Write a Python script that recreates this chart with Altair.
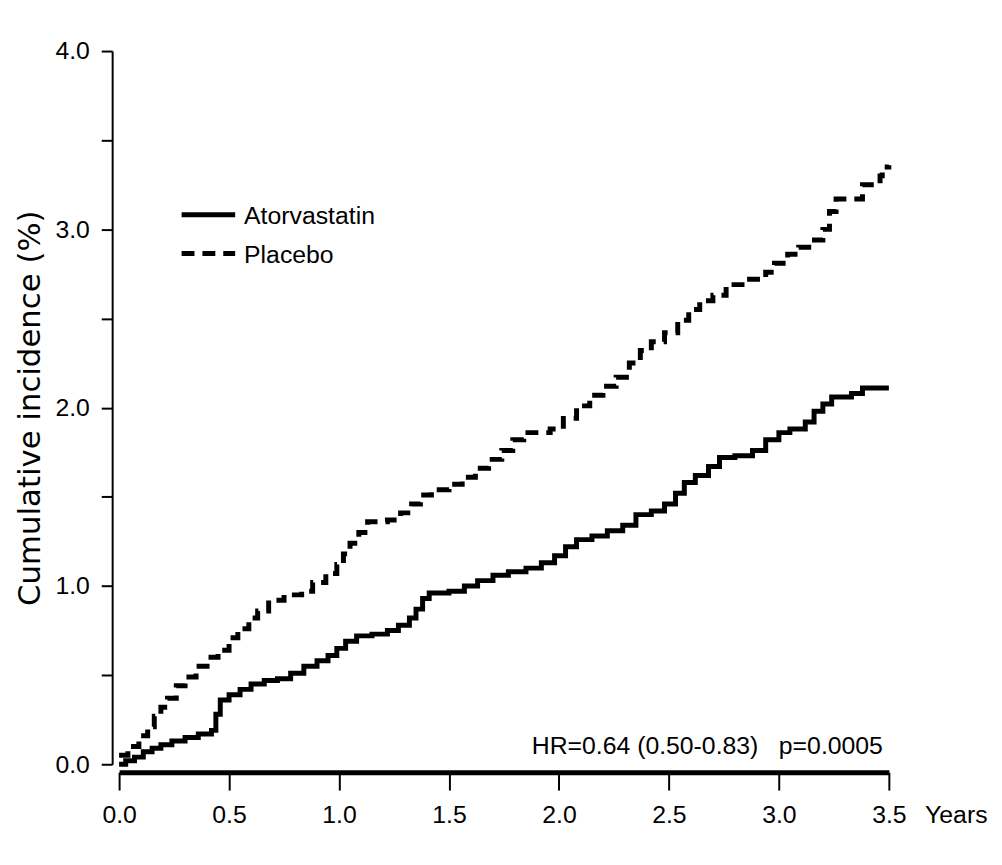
import altair as alt
import pandas as pd

# ---- data ----
atorva_t = [0.00, 0.03, 0.07, 0.11, 0.15, 0.19, 0.24, 0.30, 0.36, 0.42,
            0.44, 0.46, 0.50, 0.55, 0.60, 0.66, 0.72, 0.78, 0.84, 0.90,
            0.95, 0.99, 1.03, 1.08, 1.15, 1.22, 1.27, 1.32, 1.35, 1.38,
            1.41, 1.50, 1.57, 1.63, 1.70, 1.77, 1.85, 1.92, 1.98, 2.03,
            2.08, 2.15, 2.22, 2.29, 2.35, 2.42, 2.48, 2.53, 2.57, 2.62,
            2.68, 2.73, 2.80, 2.88, 2.94, 3.00, 3.05, 3.12, 3.16, 3.20,
            3.24, 3.33, 3.38, 3.50]
atorva_v = [0.00, 0.02, 0.04, 0.07, 0.09, 0.11, 0.13, 0.15, 0.17, 0.19,
            0.28, 0.36, 0.39, 0.42, 0.45, 0.47, 0.48, 0.51, 0.55, 0.58,
            0.61, 0.65, 0.69, 0.72, 0.73, 0.75, 0.78, 0.82, 0.87, 0.93,
            0.96, 0.97, 1.00, 1.03, 1.06, 1.08, 1.10, 1.13, 1.17, 1.22,
            1.26, 1.28, 1.31, 1.34, 1.40, 1.42, 1.46, 1.52, 1.58, 1.62,
            1.67, 1.72, 1.73, 1.76, 1.82, 1.86, 1.88, 1.92, 1.98, 2.02,
            2.06, 2.08, 2.11, 2.11]

placebo_t = [0.00, 0.04, 0.09, 0.13, 0.16, 0.19, 0.22, 0.26, 0.30, 0.35,
             0.40, 0.45, 0.50, 0.54, 0.59, 0.63, 0.68, 0.75, 0.83, 0.88,
             0.94, 0.99, 1.02, 1.05, 1.09, 1.13, 1.22, 1.28, 1.33, 1.37,
             1.42, 1.50, 1.56, 1.62, 1.68, 1.74, 1.79, 1.84, 1.96, 2.02,
             2.08, 2.14, 2.20, 2.26, 2.32, 2.37, 2.42, 2.48, 2.54, 2.59,
             2.64, 2.70, 2.76, 2.85, 2.94, 2.98, 3.04, 3.09, 3.15, 3.20,
             3.23, 3.26, 3.38, 3.46, 3.47, 3.50]
placebo_v = [0.05, 0.10, 0.16, 0.21, 0.27, 0.32, 0.37, 0.44, 0.49, 0.55,
             0.60, 0.64, 0.71, 0.76, 0.82, 0.86, 0.92, 0.95, 0.97, 1.02,
             1.07, 1.12, 1.18, 1.24, 1.30, 1.36, 1.37, 1.41, 1.46, 1.51,
             1.54, 1.57, 1.61, 1.66, 1.71, 1.76, 1.82, 1.86, 1.88, 1.94,
             2.01, 2.07, 2.12, 2.17, 2.25, 2.32, 2.37, 2.42, 2.49, 2.55,
             2.60, 2.63, 2.69, 2.72, 2.76, 2.81, 2.86, 2.90, 2.94, 3.00,
             3.10, 3.17, 3.25, 3.30, 3.35, 3.36]

series_names = ["Atorvastatin", "Placebo"]
legend_rows = [0, 1]
x_ticks = [0.0, 0.5, 1.0, 1.5, 2.0, 2.5, 3.0, 3.5]
y_ticks = [0.0, 0.5, 1.0, 1.5, 2.0, 2.5, 3.0, 3.5, 4.0]
hr_text = "HR=0.64 (0.50-0.83)"
p_text = "p=0.0005"

LAB = "Liberation Sans, Arial, sans-serif"
LSIZE = 25

df = pd.concat([
    pd.DataFrame({"t": atorva_t, "v": atorva_v, "series": series_names[0]}),
    pd.DataFrame({"t": placebo_t, "v": placebo_v, "series": series_names[1]}),
])

W, H = 776, 719

xscale = alt.Scale(domain=[0, 3.5], nice=False, zero=False)
yscale = alt.Scale(domain=[0, 4], nice=False)
dash_scale = alt.Scale(domain=series_names, range=[[1, 0], [13, 8]])

x_axis = alt.Axis(values=x_ticks, format=".1f", tickSize=18, tickWidth=2,
                  tickColor="black", domainWidth=5, domainColor="black",
                  labelFont=LAB, labelFontSize=LSIZE, labelColor="black",
                  labelPadding=13, labelFlush=False, labelOverlap=False,
                  offset=8, grid=False, title="Years", titleFont=LAB,
                  titleFontSize=LSIZE, titleFontWeight="normal", titleColor="black",
                  titleX=W + 36, titleY=31, titleAlign="left", titleBaseline="top")

y_axis = alt.Axis(values=y_ticks,
                  labelExpr="datum.value % 1 == 0 ? format(datum.value, '.1f') : ''",
                  tickSize=11, tickWidth=2, tickColor="black", domainWidth=2,
                  domainColor="black", labelFont=LAB, labelFontSize=LSIZE,
                  labelColor="black", labelPadding=12, labelFlush=False,
                  labelOverlap=False, offset=7, grid=False,
                  title="Cumulative incidence (%)", titleFont="DejaVu Sans",
                  titleFontSize=31, titleFontWeight="normal", titleColor="black",
                  titleX=-66)

lines = alt.Chart(df).mark_line(interpolate="step-after", strokeWidth=5,
                                color="black", clip=False).encode(
    x=alt.X("t:Q", scale=xscale, axis=x_axis),
    y=alt.Y("v:Q", scale=yscale, axis=y_axis),
    strokeDash=alt.StrokeDash("series:N", scale=dash_scale, legend=None),
    detail="series:N",
)

legend_df = pd.DataFrame({"series": series_names, "row": legend_rows})

legend_lines = alt.Chart(legend_df).mark_rule(strokeWidth=5, color="black").encode(
    x=alt.value(63), x2=alt.value(117),
    y=alt.Y("row:Q", scale=alt.Scale(domain=[0, 1], range=[165, 204]), axis=None),
    strokeDash=alt.StrokeDash("series:N", scale=dash_scale, legend=None),
)
legend_text = alt.Chart(legend_df).mark_text(
    font=LAB, fontSize=LSIZE, align="left", baseline="middle", color="black").encode(
    x=alt.value(126),
    y=alt.Y("row:Q", scale=alt.Scale(domain=[0, 1], range=[166, 206]), axis=None),
    text="series:N",
)

ann_df = pd.DataFrame({"label": [hr_text, p_text]})
hr = alt.Chart(ann_df).transform_filter(alt.datum.label == hr_text).mark_text(
    font=LAB, fontSize=LSIZE, align="left", baseline="alphabetic", color="black").encode(
    x=alt.value(416), y=alt.value(709), text="label:N")
pv = alt.Chart(ann_df).transform_filter(alt.datum.label == p_text).mark_text(
    font=LAB, fontSize=LSIZE, align="right", baseline="alphabetic", color="black").encode(
    x=alt.value(770), y=alt.value(709), text="label:N")

chart = alt.layer(lines, legend_lines, legend_text, hr, pv).resolve_scale(
    y="independent", strokeDash="shared"
).properties(
    width=W, height=H,
    padding={"left": 112, "top": 40, "right": 106, "bottom": 80},
    autosize=alt.AutoSizeParams(type="none"),
    background="white",
).configure_view(stroke=None)

chart.save("out.html", embed_options={"renderer": "svg", "actions": False})
